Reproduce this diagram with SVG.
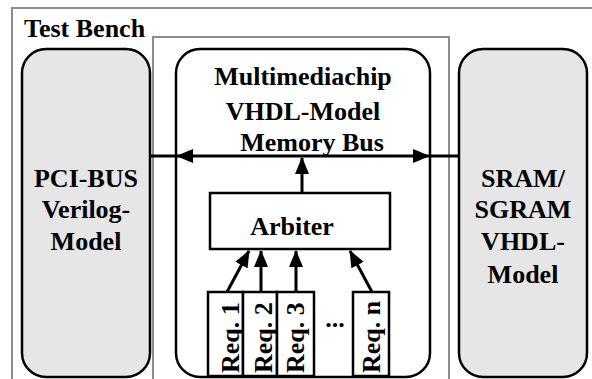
<svg xmlns="http://www.w3.org/2000/svg" width="592" height="379" viewBox="0 0 592 379">
<style>
text{font-family:"Liberation Serif","Times New Roman",serif;font-weight:bold;font-size:26px;fill:#000}
.frame{fill:none;stroke:#8c8c8c;stroke-width:2}
.side{fill:#e6e6e6;stroke:#000;stroke-width:2.5}
.box{fill:#fff;stroke:#000;stroke-width:2.5}
.wire{stroke:#000;stroke-width:3;fill:none}
.head{fill:#000}
</style>
<defs>
<marker id="ah" markerUnits="userSpaceOnUse" markerWidth="17" markerHeight="14" refX="16" refY="7" orient="auto">
<path d="M0,0 L17,7 L0,14 z" fill="#000"/>
</marker>
</defs>
<rect x="0" y="0" width="592" height="379" fill="#fff"/>
<g id="testbench">
<path class="frame" d="M12,380 V8 H594"/>
<text x="24" y="37">Test Bench</text>
</g>
<g id="innerframe">
<path class="frame" d="M153,380 V37 H449 V380"/>
</g>
<g id="pci">
<rect class="side" x="22" y="49" width="128" height="328" rx="24" ry="24"/>
<text x="86" y="187" text-anchor="middle">PCI-BUS</text>
<text x="86" y="218" text-anchor="middle">Verilog-</text>
<text x="86" y="250" text-anchor="middle">Model</text>
</g>
<g id="sram">
<rect class="side" x="459" y="49" width="128" height="328" rx="24" ry="24"/>
<text x="523" y="187" text-anchor="middle">SRAM/</text>
<text x="523" y="218" text-anchor="middle">SGRAM</text>
<text x="523" y="250" text-anchor="middle">VHDL-</text>
<text x="523" y="283" text-anchor="middle">Model</text>
</g>
<g id="chip">
<rect class="box" x="176" y="49" width="254" height="328" rx="24" ry="24"/>
<text x="303" y="85" text-anchor="middle">Multimediachip</text>
<text x="303" y="120" text-anchor="middle">VHDL-Model</text>
<text x="312" y="151" text-anchor="middle">Memory Bus</text>
</g>
<g id="arbiter">
<rect class="box" x="210" y="193" width="180" height="56"/>
<text x="292" y="235" text-anchor="middle">Arbiter</text>
</g>
<g id="req1">
<rect class="box" x="208" y="292" width="35" height="84"/>
<text transform="translate(239,373) rotate(-90)">Req. 1</text>
</g>
<g id="req2">
<rect class="box" x="243" y="292" width="34" height="84"/>
<text transform="translate(272,373) rotate(-90)">Req. 2</text>
</g>
<g id="req3">
<rect class="box" x="277" y="292" width="37" height="84"/>
<text transform="translate(304,373) rotate(-90)">Req. 3</text>
</g>
<g id="dots">
<text x="335" y="327" text-anchor="middle">...</text>
</g>
<g id="reqn">
<rect class="box" x="353" y="292" width="36" height="84"/>
<text transform="translate(380,373) rotate(-90)">Req. n</text>
</g>
<g id="connectors">
<line class="wire" x1="150" y1="156" x2="460" y2="156"/>
<polygon class="head" points="176,156 193,149 193,163"/>
<polygon class="head" points="430,156 413,149 413,163"/>
<line class="wire" x1="302" y1="193" x2="302" y2="158" marker-end="url(#ah)"/>
<line class="wire" x1="227" y1="292" x2="249" y2="251" marker-end="url(#ah)"/>
<line class="wire" x1="261" y1="292" x2="261" y2="251" marker-end="url(#ah)"/>
<line class="wire" x1="296" y1="292" x2="296" y2="251" marker-end="url(#ah)"/>
<line class="wire" x1="372" y1="292" x2="350" y2="251" marker-end="url(#ah)"/>
</g>
</svg>
